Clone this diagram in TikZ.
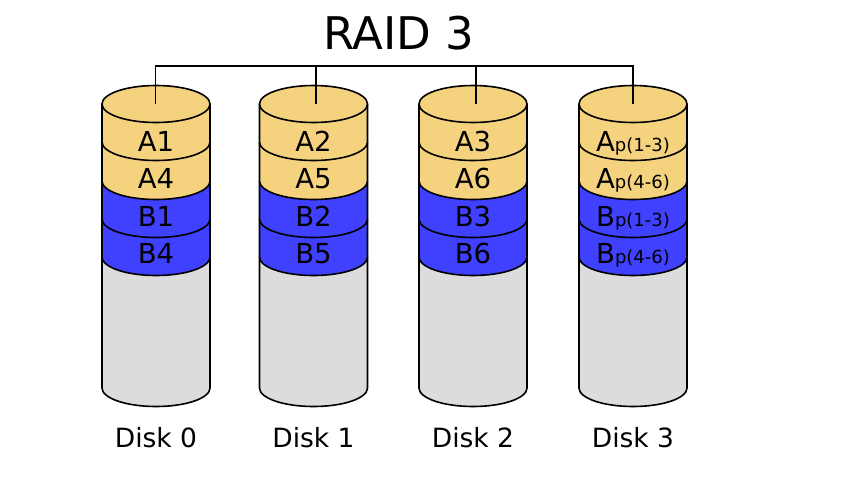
\documentclass[tikz,border=0pt]{standalone}
\usepackage{fontspec}
\setmainfont{DejaVu Sans}
\definecolor{aband}{RGB}{245,211,126}
\definecolor{bband}{RGB}{64,64,255}
\definecolor{body}{RGB}{220,220,220}
\newcommand\diskband[4]{% cx, ytop, ybot, colour
  \fill[#4] ({#1-54},{-#2}) -- ({#1-54},{-#3}) arc[start angle=180,end angle=360,x radius=54,y radius=18.5]
     -- ({#1+54},{-#2}) arc[start angle=0,end angle=180,x radius=54,y radius=18.5] -- cycle;
  \draw[outl] ({#1-54},{-#2}) -- ({#1-54},{-#3}) arc[start angle=180,end angle=360,x radius=54,y radius=18.5]
     -- ({#1+54},{-#2});
}
\newcommand\diskunit[7]{% cx, name, l1,l2,l3,l4, connector x
  \diskband{#1}{257}{388}{body}
  \diskband{#1}{219}{257}{bband}
  \diskband{#1}{181}{219}{bband}
  \diskband{#1}{142}{181}{aband}
  \diskband{#1}{104}{142}{aband}
  \filldraw[outl,fill=aband] (#1,-104) ellipse[x radius=54,y radius=18.5];
  \coordinate (#2) at (#7,-104);
  \node[lbl] (#2l1) at (#1,-151) {#3};
  \node[lbl] (#2l2) at (#1,-188.5) {#4};
  \node[lbl] (#2l3) at (#1,-226) {#5};
  \node[lbl] (#2l4) at (#1,-263.5) {#6};
}
\newcommand\parsub[1]{{\fontsize{18}{20}\selectfont #1}}
\begin{document}
\begin{tikzpicture}[x=1pt,y=1pt,
  outl/.style={draw=black,line width=1.6pt},
  lbl/.style={anchor=base,font=\fontsize{27.5}{32}\selectfont,inner sep=0pt},
  dlbl/.style={anchor=base,font=\fontsize{26.5}{31}\selectfont,inner sep=0pt},
  conn/.style={draw=black,line width=1.6pt}]
\useasboundingbox (0,0) rectangle (856,-488);
\node[anchor=base,font=\fontsize{45}{54}\selectfont,inner sep=0pt] (title) at (399,-49) {RAID 3};
\diskunit{156}{d0}{A1}{A4}{B1}{B4}{155.5}
\diskunit{313.5}{d1}{A2}{A5}{B2}{B5}{316}
\diskunit{473}{d2}{A3}{A6}{B3}{B6}{476}
\diskunit{633}{d3}{A\parsub{p(1-3)}}{A\parsub{p(4-6)}}{B\parsub{p(1-3)}}{B\parsub{p(4-6)}}{633}
\coordinate (bus) at (155.5,-66);
\draw[conn] (d0) -- (bus) -| (d3);
\draw[conn] (d1) -- (d1 |- bus);
\draw[conn] (d2) -- (d2 |- bus);
\node[dlbl] (n0) at (156,-447) {Disk 0};
\node[dlbl] (n1) at (313.5,-447) {Disk 1};
\node[dlbl] (n2) at (473,-447) {Disk 2};
\node[dlbl] (n3) at (633,-447) {Disk 3};
\end{tikzpicture}
\end{document}
